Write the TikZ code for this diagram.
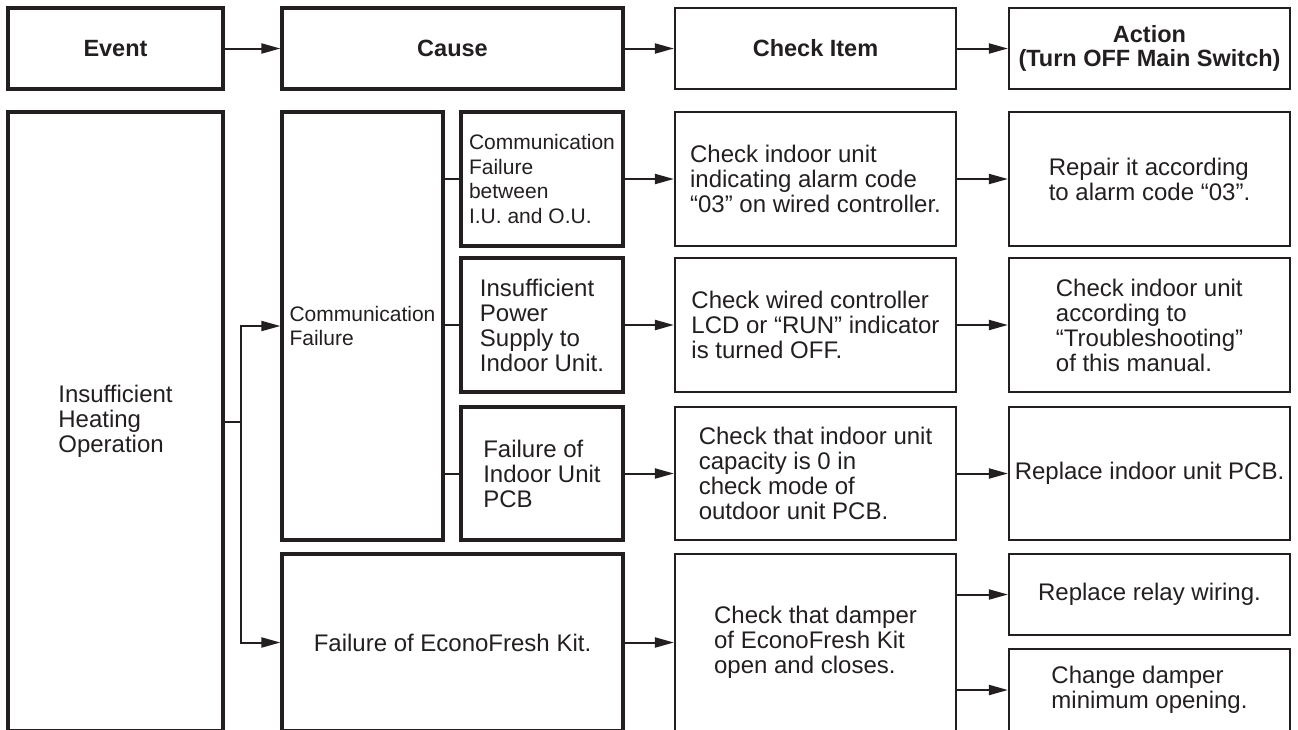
\documentclass[tikz,border=0pt]{standalone}
\usepackage{fontspec}
\setmainfont{Liberation Sans}
\usetikzlibrary{arrows.meta}

\begin{document}
\begin{tikzpicture}[x=1pt, y=-1pt]
  % Definir colores
  \definecolor{ink}{RGB}{35, 31, 32}

  % Estilos de cajas, textos y flechas
  \tikzset{
    box/.style={draw=ink, text=ink, inner sep=0pt},
    thickbox/.style={box, line width=3.2pt},
    thinbox/.style={box, line width=2.2pt},
    header/.style={font=\fontsize{23.5}{24}\selectfont\bfseries, align=center, minimum height=81pt},
    cell/.style={font=\fontsize{24}{25}\selectfont, align=left},
    smallcell/.style={font=\fontsize{21}{24.5}\selectfont, align=left},
    wire/.style={draw=ink, line width=2pt},
    flow/.style={wire, -{Triangle[length=19pt, width=10pt]}}
  }

  % Marco de la figura
  \useasboundingbox (0,0) rectangle (1298,729);
  \clip (0,0) rectangle (1298,729);

  % Encabezados
  \node[thickbox, header, minimum width=215pt] (event) at (115.5, 48.5) {Event};
  \node[thickbox, header, minimum width=341pt] (cause) at (452.5, 48.5) {Cause};
  \node[thinbox, header, minimum width=281pt] (checkitem) at (815.5, 48.5) {Check Item};
  \node[thinbox, header, minimum width=281pt] (action) at (1149.5, 48.5) {Action\\(Turn OFF Main Switch)};

  \draw[flow] (event) -- (cause);
  \draw[flow] (cause) -- (checkitem);
  \draw[flow] (checkitem) -- (action);

  % Evento
  \node[thickbox, cell, minimum width=215pt, minimum height=619pt] (insuf) at (115.5, 421.5) {Insufficient\\Heating\\Operation};

  % Causas
  \node[thickbox, smallcell, minimum width=161pt, minimum height=428pt] (comm) at (362.5, 326) {Communication\\Failure};
  \node[thickbox, smallcell, minimum width=162pt, minimum height=134pt] (sub1) at (542, 179) {Communication\\Failure\\between\\I.U. and O.U.};
  \node[thickbox, cell, minimum width=162pt, minimum height=134pt] (sub2) at (542, 325) {Insufficient\\Power\\Supply to\\Indoor Unit.};
  \node[thickbox, cell, minimum width=162pt, minimum height=133pt] (sub3) at (542, 473.5) {Failure of\\Indoor Unit\\PCB};
  \node[thickbox, cell, minimum width=341pt, minimum height=177pt] (econo) at (452.5, 642.5) {Failure of EconoFresh Kit.};

  % Puntos a revisar
  \node[thinbox, cell, minimum width=281pt, minimum height=134pt] (chk1) at (815.5, 179) {Check indoor unit\\indicating alarm code\\“03” on wired controller.};
  \node[thinbox, cell, minimum width=281pt, minimum height=134pt] (chk2) at (815.5, 325) {Check wired controller\\LCD or “RUN” indicator\\is turned OFF.};
  \node[thinbox, cell, minimum width=281pt, minimum height=133pt] (chk3) at (815.5, 473.5) {Check that indoor unit\\capacity is 0 in\\check mode of\\outdoor unit PCB.};
  \node[thinbox, cell, minimum width=281pt, minimum height=177pt] (chk4) at (815.5, 642.5) {Check that damper\\of EconoFresh Kit\\open and closes.};

  % Acciones
  \node[thinbox, cell, minimum width=281pt, minimum height=134pt] (act1) at (1149.5, 179) {Repair it according\\to alarm code “03”.};
  \node[thinbox, cell, minimum width=281pt, minimum height=134pt] (act2) at (1149.5, 325) {Check indoor unit\\according to\\“Troubleshooting”\\of this manual.};
  \node[thinbox, cell, minimum width=281pt, minimum height=133pt] (act3) at (1149.5, 473.5) {Replace indoor unit PCB.};
  \node[thinbox, cell, minimum width=281pt, minimum height=81pt] (relay) at (1149.5, 594.5) {Replace relay wiring.};
  \node[thinbox, cell, minimum width=281pt, minimum height=82pt] (damper) at (1149.5, 690) {Change damper\\minimum opening.};

  % Conexiones
  \coordinate (split) at (241, 421.5);
  \draw[wire] (insuf.east) -- (split);
  \draw[flow] (split) |- (comm.west);
  \draw[flow] (split) |- (econo.west);

  \foreach \s in {sub1, sub2, sub3}
    \draw[wire] (comm.east |- \s.west) -- (\s.west);

  \foreach \i in {1, 2, 3} {
    \draw[flow] (sub\i) -- (chk\i);
    \draw[flow] (chk\i) -- (act\i);
  }
  \draw[flow] (econo) -- (chk4);
  \draw[flow] (chk4.east |- relay.west) -- (relay.west);
  \draw[flow] (chk4.east |- damper.west) -- (damper.west);
\end{tikzpicture}
\end{document}
